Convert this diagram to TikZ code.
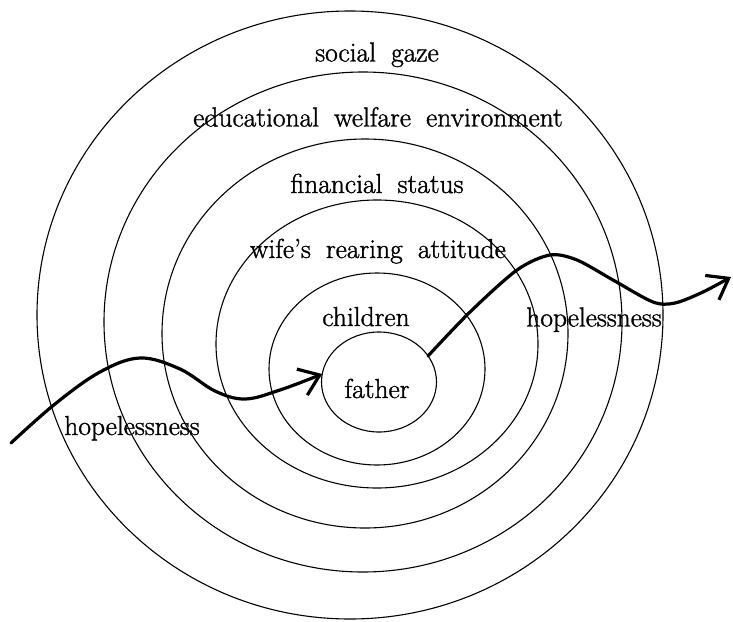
\documentclass[tikz,border=0pt]{standalone}
\usepackage{fontspec}
\usetikzlibrary{shapes.geometric,arrows.meta}
\newfontfamily\labfam{Latin Modern Roman}[RawFeature={embolden=1.3}]
\newcommand\labfont{\labfam\fontsize{27.5}{32}\selectfont\spaceskip=0.55em plus 0.1em minus 0.1em\relax}
\begin{document}
\begin{tikzpicture}[x=1pt,y=-1pt,
  ring/.style={draw, ellipse, inner sep=0pt, outer sep=0pt, line width=1.1pt},
  lab/.style={anchor=base, inner sep=0pt, font=\labfont},
  flow/.style={line width=3.2pt, line cap=round, line join=round,
    -{Straight Barb[length=19pt,width=28pt]}}]
\useasboundingbox (0,0) rectangle (733,621);
% rings
\node[ring, minimum width=626pt, minimum height=608pt] (e1) at (350,315) {};
\node[ring, minimum width=518pt, minimum height=500pt] (e2) at (363,322) {};
\node[ring, minimum width=406pt, minimum height=389pt] (e3) at (365,333.5) {};
\node[ring, minimum width=322pt, minimum height=288pt] (e4) at (377,344) {};
\node[ring, minimum width=216pt, minimum height=192pt] (e5) at (377,369) {};
\node[ring, minimum width=115pt, minimum height=100pt] (e6) at (379,382) {};
% labels
\node[lab] (social) at (377,61.5) {social gaze};
\node[lab] (edu) at (378,126.5) {educational welfare environment};
\node[lab] (fin) at (377,193) {financial status};
\node[lab] (wife) at (378,258) {wife’s rearing attitude};
\node[lab] (child) at (366,326) {children};
\node[lab] (father) at (377,398) {father};
\node[lab] (hopeL) at (132,435) {hopelessness};
\node[lab] (hopeR) at (594,326.5) {hopelessness};
% flows
\coordinate (inStart) at (11,443);
\coordinate (outEnd) at (731,277);
\draw[flow] plot[smooth, tension=0.6] coordinates {(inStart) (55,404) (100,372) (140,358) (180,369) (215,391) (245,399) (280,390) (e6.172)};
\draw[flow] plot[smooth, tension=0.5] coordinates {(e6.28) (470,312) (517,270) (550,255) (577,260) (613,280) (653,302) (675,303) (703,292) (outEnd)};
\end{tikzpicture}
\end{document}
